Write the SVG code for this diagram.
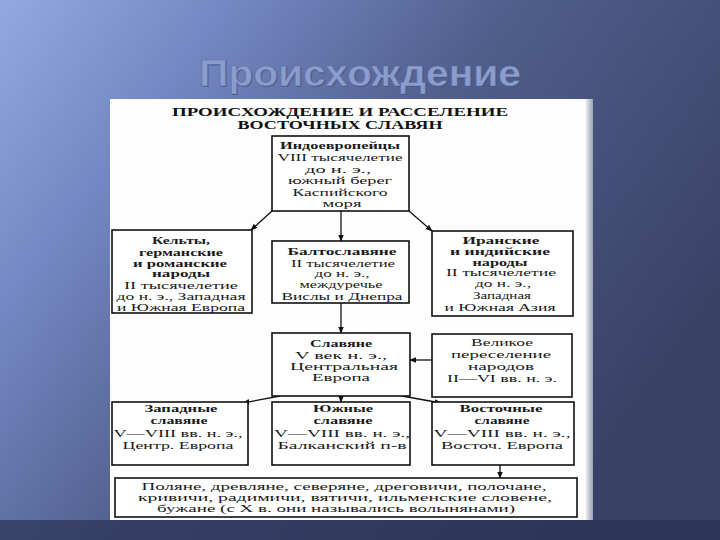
<svg xmlns="http://www.w3.org/2000/svg" width="720" height="540" viewBox="0 0 720 540">
<defs>
<linearGradient id="bg" x1="0" y1="0" x2="1" y2="0.55">
<stop offset="0" stop-color="#93a8e0"/>
<stop offset="0.25" stop-color="#7387c2"/>
<stop offset="0.55" stop-color="#505e8c"/>
<stop offset="1" stop-color="#394265"/>
</linearGradient>
<linearGradient id="shade" x1="0" y1="0" x2="1" y2="0">
<stop offset="0" stop-color="#e8eaee"/>
<stop offset="1" stop-color="#9aa2b4"/>
</linearGradient>
<marker id="ah" viewBox="0 0 10 10" refX="9" refY="5" markerWidth="7" markerHeight="7" orient="auto" markerUnits="userSpaceOnUse">
<path d="M0,1 L10,5 L0,9 Z" fill="#111"/>
</marker>
<style>
.box{fill:#fff;stroke:#111;stroke-width:1.6}
.t{font-family:"Liberation Serif","DejaVu Serif",serif;font-size:10.5px;fill:#1a1a1a;text-anchor:middle}
.b{font-weight:bold}
.h{font-family:"Liberation Serif","DejaVu Serif",serif;font-size:12px;font-weight:bold;fill:#111;text-anchor:middle}
.c{stroke:#111;stroke-width:1.3;fill:none;marker-end:url(#ah)}
</style>
</defs>
<rect x="0" y="0" width="720" height="540" fill="url(#bg)"/>
<rect x="0" y="520" width="720" height="20" fill="#2a3252" opacity="0.7"/>
<text x="361" y="87" font-family="'Liberation Sans',Arial,sans-serif" font-size="36" font-weight="bold" fill="#3f4a72" opacity="0.6" text-anchor="middle" textLength="322" lengthAdjust="spacingAndGlyphs">Происхождение</text>
<text x="360" y="86" font-family="'Liberation Sans',Arial,sans-serif" font-size="36" font-weight="bold" fill="#8b9dcf" stroke="#5d6b98" stroke-width="0.6" text-anchor="middle" textLength="322" lengthAdjust="spacingAndGlyphs">Происхождение</text>
<rect x="110" y="99" width="478" height="421" fill="#fdfdfd"/>
<rect x="586" y="99" width="7" height="421" fill="url(#shade)"/>
<text class="h" x="340" y="116" textLength="336" lengthAdjust="spacingAndGlyphs">ПРОИСХОЖДЕНИЕ И РАССЕЛЕНИЕ</text>
<text class="h" x="340" y="129" textLength="205" lengthAdjust="spacingAndGlyphs">ВОСТОЧНЫХ СЛАВЯН</text>
<g id="connectors">
<line class="c" x1="272" y1="211" x2="251" y2="230"/>
<line class="c" x1="341" y1="211" x2="341" y2="241"/>
<line class="c" x1="409" y1="211" x2="432" y2="231"/>
<line class="c" x1="341" y1="303" x2="341" y2="333"/>
<line class="c" x1="432" y1="360" x2="410" y2="360"/>
<line class="c" x1="280" y1="396" x2="243" y2="403"/>
<line class="c" x1="341" y1="396" x2="341" y2="402"/>
<line class="c" x1="402" y1="396" x2="441" y2="403"/>
<line class="c" x1="500" y1="465" x2="500" y2="478"/>
</g>
<g id="indo">
<rect class="box" x="272" y="136" width="137" height="75"/>
<text class="t b" x="340" y="149" textLength="120" lengthAdjust="spacingAndGlyphs">Индоевропейцы</text>
<text class="t" x="340" y="161" textLength="125" lengthAdjust="spacingAndGlyphs">VIII тысячелетие</text>
<text class="t" x="338" y="173" textLength="66" lengthAdjust="spacingAndGlyphs">до н. э.,</text>
<text class="t" x="340" y="184" textLength="104" lengthAdjust="spacingAndGlyphs">южный берег</text>
<text class="t" x="340" y="196" textLength="95" lengthAdjust="spacingAndGlyphs">Каспийского</text>
<text class="t" x="342" y="207" textLength="39" lengthAdjust="spacingAndGlyphs">моря</text>
</g>
<g id="kelty">
<rect class="box" x="112" y="230" width="140" height="83"/>
<text class="t b" x="181" y="244" textLength="58" lengthAdjust="spacingAndGlyphs">Кельты,</text>
<text class="t b" x="181" y="256" textLength="84" lengthAdjust="spacingAndGlyphs">германские</text>
<text class="t b" x="180" y="267" textLength="94" lengthAdjust="spacingAndGlyphs">и романские</text>
<text class="t b" x="181" y="277" textLength="58" lengthAdjust="spacingAndGlyphs">народы</text>
<text class="t" x="181" y="289" textLength="114" lengthAdjust="spacingAndGlyphs">II тысячелетие</text>
<text class="t" x="181" y="300" textLength="129" lengthAdjust="spacingAndGlyphs">до н. э., Западная</text>
<text class="t" x="181" y="311" textLength="128" lengthAdjust="spacingAndGlyphs">и Южная Европа</text>
</g>
<g id="balto">
<rect class="box" x="272" y="241" width="137" height="62"/>
<text class="t b" x="342" y="255" textLength="109" lengthAdjust="spacingAndGlyphs">Балтославяне</text>
<text class="t" x="343" y="267" textLength="104" lengthAdjust="spacingAndGlyphs">II тысячелетие</text>
<text class="t" x="342" y="277" textLength="55" lengthAdjust="spacingAndGlyphs">до н. э.,</text>
<text class="t" x="341" y="288" textLength="83" lengthAdjust="spacingAndGlyphs">междуречье</text>
<text class="t" x="342" y="300" textLength="121" lengthAdjust="spacingAndGlyphs">Вислы и Днепра</text>
</g>
<g id="iran">
<rect class="box" x="432" y="231" width="141" height="85"/>
<text class="t b" x="501" y="244" textLength="77" lengthAdjust="spacingAndGlyphs">Иранские</text>
<text class="t b" x="500" y="255" textLength="100" lengthAdjust="spacingAndGlyphs">и индийские</text>
<text class="t b" x="500" y="266" textLength="55" lengthAdjust="spacingAndGlyphs">народы</text>
<text class="t" x="501" y="276" textLength="110" lengthAdjust="spacingAndGlyphs">II тысячелетие</text>
<text class="t" x="503" y="287" textLength="56" lengthAdjust="spacingAndGlyphs">до н. э.,</text>
<text class="t" x="502" y="299" textLength="58" lengthAdjust="spacingAndGlyphs">Западная</text>
<text class="t" x="500" y="311" textLength="111" lengthAdjust="spacingAndGlyphs">и Южная Азия</text>
</g>
<g id="slavyane">
<rect class="box" x="272" y="333" width="138" height="63"/>
<text class="t b" x="341" y="347" textLength="62" lengthAdjust="spacingAndGlyphs">Славяне</text>
<text class="t" x="341" y="359" textLength="92" lengthAdjust="spacingAndGlyphs">V век н. э.,</text>
<text class="t" x="344" y="370" textLength="108" lengthAdjust="spacingAndGlyphs">Центральная</text>
<text class="t" x="341" y="381" textLength="58" lengthAdjust="spacingAndGlyphs">Европа</text>
</g>
<g id="pereselenie">
<rect class="box" x="432" y="334" width="140" height="63"/>
<text class="t" x="502" y="346" textLength="62" lengthAdjust="spacingAndGlyphs">Великое</text>
<text class="t" x="501" y="358" textLength="100" lengthAdjust="spacingAndGlyphs">переселение</text>
<text class="t" x="501" y="370" textLength="66" lengthAdjust="spacingAndGlyphs">народов</text>
<text class="t" x="502" y="382" textLength="110" lengthAdjust="spacingAndGlyphs">II—VI вв. н. э.</text>
</g>
<g id="zapadnye">
<rect class="box" x="112" y="402" width="136" height="63"/>
<text class="t b" x="181" y="412" textLength="73" lengthAdjust="spacingAndGlyphs">Западные</text>
<text class="t b" x="179" y="424" textLength="57" lengthAdjust="spacingAndGlyphs">славяне</text>
<text class="t" x="178" y="437" textLength="129" lengthAdjust="spacingAndGlyphs">V—VIII вв. н. э.,</text>
<text class="t" x="178" y="449" textLength="111" lengthAdjust="spacingAndGlyphs">Центр. Европа</text>
</g>
<g id="yuzhnye">
<rect class="box" x="272" y="402" width="138" height="63"/>
<text class="t b" x="343" y="412" textLength="60" lengthAdjust="spacingAndGlyphs">Южные</text>
<text class="t b" x="343" y="424" textLength="59" lengthAdjust="spacingAndGlyphs">славяне</text>
<text class="t" x="342" y="437" textLength="136" lengthAdjust="spacingAndGlyphs">V—VIII вв. н. э.,</text>
<text class="t" x="342" y="449" textLength="129" lengthAdjust="spacingAndGlyphs">Балканский п-в</text>
</g>
<g id="vostochnye">
<rect class="box" x="432" y="402" width="142" height="63"/>
<text class="t b" x="501" y="412" textLength="83" lengthAdjust="spacingAndGlyphs">Восточные</text>
<text class="t b" x="502" y="424" textLength="55" lengthAdjust="spacingAndGlyphs">славяне</text>
<text class="t" x="502" y="437" textLength="137" lengthAdjust="spacingAndGlyphs">V—VIII вв. н. э.,</text>
<text class="t" x="502" y="449" textLength="122" lengthAdjust="spacingAndGlyphs">Восточ. Европа</text>
</g>
<g id="plemena">
<rect class="box" x="115" y="478" width="462" height="39"/>
<text class="t" x="344" y="490" textLength="405" lengthAdjust="spacingAndGlyphs">Поляне, древляне, северяне, дреговичи, полочане,</text>
<text class="t" x="345" y="501" textLength="414" lengthAdjust="spacingAndGlyphs">кривичи, радимичи, вятичи, ильменские словене,</text>
<text class="t" x="336" y="512" textLength="358" lengthAdjust="spacingAndGlyphs">бужане (с X в. они назывались волынянами)</text>
</g>
</svg>
